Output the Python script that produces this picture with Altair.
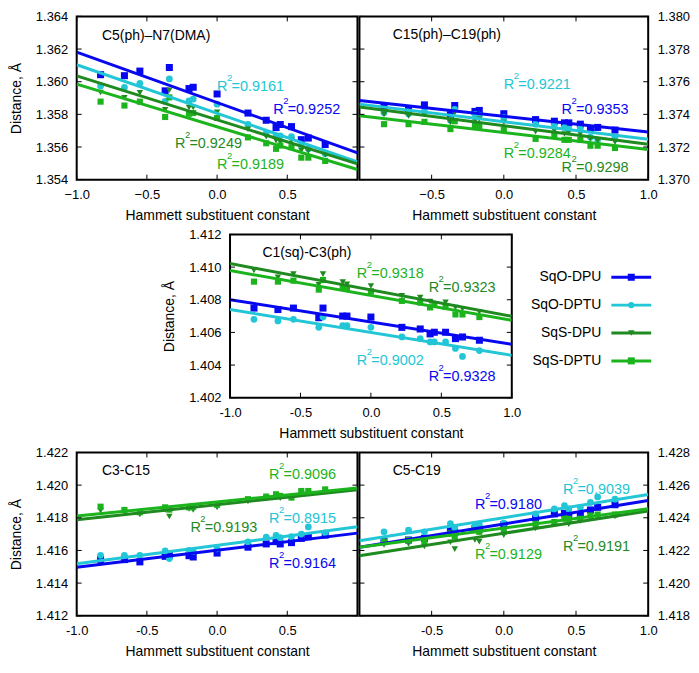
import altair as alt
import pandas as pd

# ---------------- data ----------------
hammett = [-0.83, -0.66, -0.55, -0.37, -0.34, -0.20, -0.17, 0.00,
           0.22, 0.35, 0.42, 0.45, 0.53, 0.60, 0.65, 0.77]

series = ["SqO-DPU", "SqO-DPTU", "SqS-DPU", "SqS-DPTU"]
series_colors = ["#0808f0", "#22c6d6", "#1f8a1f", "#1cb41c"]
series_shapes = ["square", "circle", "triangle-down", "square"]
series_sizes = [50, 38, 44, 50]

# C5(ph)-N7(DMA)
p1_sqo_dpu = [1.36043, 1.36037, 1.36065, 1.35944, 1.36087, 1.35958, 1.35966, 1.35925,
              1.35808, 1.35764, 1.35719, 1.35738, 1.35725, 1.35645, 1.35655, 1.35615]
p1_sqo_dptu = [1.35974, 1.35965, 1.35990, 1.35880, 1.36017, 1.35882, 1.35894, 1.35862,
               1.35738, 1.35683, 1.35669, 1.35669, 1.35663, 1.35609, 1.35590, 1.35559]
p1_sqs_dpu = [1.35934, 1.35902, 1.35932, 1.35828, 1.35948, 1.35842, 1.35842, 1.35812,
              1.35709, 1.35663, 1.35639, 1.35630, 1.35639, 1.35579, 1.35575, 1.35553]
p1_sqs_dptu = [1.35878, 1.35854, 1.35878, 1.35784, 1.35904, 1.35804, 1.35808, 1.35778,
               1.35659, 1.35623, 1.35589, 1.35609, 1.35599, 1.35535, 1.35535, 1.35515]

# C15(ph)-C19(ph)
p2_sqo_dpu = [1.37444, 1.37430, 1.37458, 1.37398, 1.37454, 1.37418, 1.37424, 1.37404,
              1.37368, 1.37358, 1.37348, 1.37348, 1.37340, 1.37310, 1.37320, 1.37304]
p2_sqo_dptu = [1.37410, 1.37404, 1.37418, 1.37364, 1.37430, 1.37400, 1.37395, 1.37380,
               1.37340, 1.37335, 1.37320, 1.37310, 1.37315, 1.37260, 1.37244, 1.37260]
p2_sqs_dpu = [1.37400, 1.37390, 1.37400, 1.37350, 1.37410, 1.37360, 1.37370, 1.37350,
              1.37294, 1.37300, 1.37280, 1.37290, 1.37280, 1.37250, 1.37240, 1.37230]
p2_sqs_dptu = [1.37340, 1.37340, 1.37354, 1.37310, 1.37358, 1.37334, 1.37324, 1.37304,
               1.37250, 1.37274, 1.37244, 1.37244, 1.37244, 1.37208, 1.37208, 1.37194]

# C1(sq)-C3(ph)
p3_sqo_dpu = [1.40749, 1.40740, 1.40749, 1.40690, 1.40749, 1.40700, 1.40700, 1.40694,
              1.40631, 1.40621, 1.40591, 1.40601, 1.40601, 1.40562, 1.40572, 1.40552]
p3_sqo_dptu = [1.40680, 1.40670, 1.40680, 1.40631, 1.40694, 1.40641, 1.40641, 1.40631,
               1.40572, 1.40562, 1.40542, 1.40542, 1.40542, 1.40502, 1.40453, 1.40489]
p3_sqs_dpu = [1.40980, 1.40937, 1.40957, 1.40892, 1.40957, 1.40908, 1.40895, 1.40884,
              1.40825, 1.40813, 1.40789, 1.40775, 1.40785, 1.40753, 1.40745, 1.40726]
p3_sqs_dptu = [1.40911, 1.40911, 1.40917, 1.40862, 1.40921, 1.40878, 1.40868, 1.40852,
               1.40793, 1.40783, 1.40753, 1.40769, 1.40757, 1.40710, 1.40710, 1.40694]

# C3-C15
p4_sqo_dpu = [1.41544, 1.41544, 1.41530, 1.41564, 1.41570, 1.41568, 1.41560, 1.41584,
              1.41620, 1.41640, 1.41654, 1.41640, 1.41648, 1.41674, 1.41684, 1.41694]
p4_sqo_dptu = [1.41570, 1.41570, 1.41570, 1.41598, 1.41550, 1.41600, 1.41594, 1.41610,
               1.41652, 1.41682, 1.41692, 1.41678, 1.41684, 1.41700, 1.41744, 1.41708]
p4_sqs_dpu = [1.41844, 1.41834, 1.41820, 1.41848, 1.41808, 1.41854, 1.41848, 1.41864,
              1.41900, 1.41920, 1.41928, 1.41920, 1.41920, 1.41948, 1.41948, 1.41960]
p4_sqs_dptu = [1.41868, 1.41848, 1.41834, 1.41864, 1.41850, 1.41864, 1.41868, 1.41880,
               1.41914, 1.41930, 1.41944, 1.41934, 1.41924, 1.41964, 1.41964, 1.41974]

# C5-C19
p5_sqo_dpu = [1.42254, 1.42264, 1.42274, 1.42324, 1.42310, 1.42334, 1.42330, 1.42358,
              1.42400, 1.42424, 1.42428, 1.42414, 1.42420, 1.42448, 1.42464, 1.42480]
p5_sqo_dptu = [1.42314, 1.42324, 1.42314, 1.42364, 1.42340, 1.42350, 1.42358, 1.42368,
               1.42424, 1.42454, 1.42474, 1.42454, 1.42464, 1.42494, 1.42528, 1.42514]
p5_sqs_dpu = [1.42234, 1.42240, 1.42224, 1.42250, 1.42208, 1.42264, 1.42254, 1.42294,
              1.42334, 1.42364, 1.42384, 1.42360, 1.42380, 1.42400, 1.42404, 1.42408]
p5_sqs_dptu = [1.42254, 1.42264, 1.42254, 1.42304, 1.42284, 1.42324, 1.42314, 1.42314,
               1.42364, 1.42374, 1.42404, 1.42394, 1.42394, 1.42414, 1.42420, 1.42420]

# panel titles
titles = ["C5(ph)\u2013N7(DMA)", "C15(ph)\u2013C19(ph)", "C1(sq)-C3(ph)", "C3-C15", "C5-C19"]

# R^2 annotations: (series index, value text)
p1_r2 = [(1, "0.9161"), (0, "0.9252"), (2, "0.9249"), (3, "0.9189")]
p2_r2 = [(1, "0.9221"), (0, "0.9353"), (3, "0.9284"), (2, "0.9298")]
p3_r2 = [(3, "0.9318"), (2, "0.9323"), (1, "0.9002"), (0, "0.9328")]
p4_r2 = [(3, "0.9096"), (2, "0.9193"), (1, "0.8915"), (0, "0.9164")]
p5_r2 = [(1, "0.9039"), (0, "0.9180"), (3, "0.9129"), (2, "0.9191")]

# annotation anchors in data units (x, y)
p1_r2_pos = [(0.00, 1.35946), (0.40, 1.35803), (-0.30, 1.35593), (0.00, 1.35468)]
p2_r2_pos = [(0.00, 1.37558), (0.40, 1.37402), (0.00, 1.37130), (0.40, 1.37048)]
p3_r2_pos = [(-0.10, 1.40933), (0.41, 1.40850), (-0.10, 1.40400), (0.41, 1.40305)]
p4_r2_pos = [(0.37, 1.42040), (-0.19, 1.41714), (0.37, 1.41768), (0.37, 1.41492)]
p5_r2_pos = [(0.41, 1.42548), (-0.20, 1.42452), (-0.20, 1.42146), (0.41, 1.42194)]

title_pos = [(-0.82, 1.36257), (-0.77, 1.37864), (-0.77, 1.41064), (-0.82, 1.42062), (-0.77, 1.42662)]

FONT = "Liberation Sans"
H = 164
color_enc = alt.Color("s:N", scale=alt.Scale(domain=series, range=series_colors), legend=None)
shape_enc = alt.Shape("s:N", scale=alt.Scale(domain=series, range=series_shapes), legend=None)
size_enc = alt.Size("s:N", scale=alt.Scale(domain=series, range=series_sizes), legend=None)


def long_df(vals):
    rows = []
    for s, ys in zip(series, vals):
        for x, y in zip(hammett, ys):
            rows.append({"x": x, "y": y, "s": s})
    return pd.DataFrame(rows)


def panel(vals, ydom, side, xlabels, W, title, tpos, r2, r2pos, long_minus, extra=()):
    df = long_df(vals)
    yvals = [round(ydom[0] + 0.002 * i, 3) for i in range(6)]
    xvals_all = [-1.0, -0.5, 0.0, 0.5, 1.0]
    xs = alt.Scale(domain=[-1, 1], nice=False, zero=False)
    ys = alt.Scale(domain=ydom, nice=False, zero=False)
    xaxis_kw = dict(values=xlabels, format=".1f", ticks=False, domain=False, grid=False,
                    labelPadding=9, titlePadding=7, labelFlush=False, labelOverlap=False,
                    title="Hammett substituent constant")
    if not long_minus:
        xaxis_kw["labelExpr"] = "replace(datum.label, '\u2212', '-')"
    xaxis = alt.Axis(**xaxis_kw)
    if side == "left":
        yaxis = alt.Axis(orient="left", values=yvals, format=".3f", ticks=False, domain=False,
                         grid=False, labelPadding=9, titlePadding=12, labelFlush=False,
                         labelOverlap=False, title="Distance, \u00c5")
    else:
        yaxis = alt.Axis(orient="right", values=yvals, format=".3f", ticks=False, domain=False,
                         grid=False, labelPadding=9, labelFlush=False, labelOverlap=False,
                         title=None)
    X = alt.X("x:Q", scale=xs, axis=xaxis)
    Y = alt.Y("y:Q", scale=ys, axis=yaxis)

    pts = alt.Chart(df).mark_point(filled=True, opacity=1).encode(
        x=X, y=Y, color=color_enc, shape=shape_enc, size=size_enc)
    lines = alt.Chart(df).transform_regression(
        "x", "y", groupby=["s"], extent=[-1, 1]).mark_line(strokeWidth=3, clip=True).encode(
        x=X, y=Y, color=color_enc)

    ytick_df = pd.DataFrame({"y": yvals})
    xtick_df = pd.DataFrame({"x": xvals_all})
    tl = alt.Chart(ytick_df).mark_rule(color="black", strokeWidth=1).encode(
        y=Y, x=alt.value(0), x2=alt.value(5))
    tr = alt.Chart(ytick_df).mark_rule(color="black", strokeWidth=1).encode(
        y=Y, x=alt.value(W - 5), x2=alt.value(W))
    tb = alt.Chart(xtick_df).mark_rule(color="black", strokeWidth=1).encode(
        x=X, y=alt.value(H - 5), y2=alt.value(H))
    tt = alt.Chart(xtick_df).mark_rule(color="black", strokeWidth=1).encode(
        x=X, y=alt.value(0), y2=alt.value(5))

    lab_df = pd.DataFrame([
        {"x": p[0], "y": p[1], "s": series[i], "t": "=" + t}
        for (i, t), p in zip(r2, r2pos)
    ])
    labR = alt.Chart(lab_df).mark_text(align="left", baseline="alphabetic", font=FONT,
                                       fontSize=14.5, text="R").encode(
        x=X, y=Y, color=color_enc)
    labV = alt.Chart(lab_df).mark_text(align="left", baseline="alphabetic", font=FONT,
                                       fontSize=14.5, dx=14.5).encode(
        x=X, y=Y, text="t:N", color=color_enc)
    sups = alt.Chart(lab_df).mark_text(align="left", baseline="alphabetic", font=FONT,
                                       fontSize=9.5, dx=10, dy=-10, text="2").encode(
        x=X, y=Y, color=color_enc)
    tdf = pd.DataFrame({"x": [tpos[0]], "y": [tpos[1]], "t": [title]})
    ttl = alt.Chart(tdf).mark_text(align="left", baseline="alphabetic", font=FONT,
                                   fontSize=14, color="black").encode(x=X, y=Y, text="t:N")
    return alt.layer(pts, lines, tl, tr, tb, tt, labR, labV, sups, ttl, *extra).properties(
        width=W, height=H)


W3 = 283
# legend for the middle panel (label left, symbol right), drawn to the right of the panel
one = pd.DataFrame({"a": [0]})
legend_layers = []
for i, s in enumerate(series):
    ly = 43 + 28 * i
    legend_layers.append(alt.Chart(one).mark_text(
        align="right", baseline="middle", font=FONT, fontSize=14, color="black", text=s).encode(
        x=alt.value(W3 + 90), y=alt.value(ly)))
    legend_layers.append(alt.Chart(one).mark_rule(
        strokeWidth=3, color=series_colors[i]).encode(
        x=alt.value(W3 + 100), x2=alt.value(W3 + 140), y=alt.value(ly)))
    legend_layers.append(alt.Chart(one).mark_point(
        filled=True, opacity=1, shape=series_shapes[i], size=series_sizes[i],
        color=series_colors[i]).encode(x=alt.value(W3 + 120), y=alt.value(ly)))

p1 = panel([p1_sqo_dpu, p1_sqo_dptu, p1_sqs_dpu, p1_sqs_dptu], [1.354, 1.364], "left",
           [-1.0, -0.5, 0.0, 0.5], 282, titles[0], title_pos[0], p1_r2, p1_r2_pos, True)
p2 = panel([p2_sqo_dpu, p2_sqo_dptu, p2_sqs_dpu, p2_sqs_dptu], [1.370, 1.380], "right",
           [-0.5, 0.0, 0.5, 1.0], 290, titles[1], title_pos[1], p2_r2, p2_r2_pos, True)
p3 = panel([p3_sqo_dpu, p3_sqo_dptu, p3_sqs_dpu, p3_sqs_dptu], [1.402, 1.412], "left",
           [-1.0, -0.5, 0.0, 0.5, 1.0], W3, titles[2], title_pos[2], p3_r2, p3_r2_pos, False,
           extra=legend_layers)
p4 = panel([p4_sqo_dpu, p4_sqo_dptu, p4_sqs_dpu, p4_sqs_dptu], [1.412, 1.422], "left",
           [-1.0, -0.5, 0.0, 0.5], 282, titles[3], title_pos[3], p4_r2, p4_r2_pos, False)
p5 = panel([p5_sqo_dpu, p5_sqo_dptu, p5_sqs_dpu, p5_sqs_dptu], [1.418, 1.428], "right",
           [-0.5, 0.0, 0.5, 1.0], 290, titles[4], title_pos[4], p5_r2, p5_r2_pos, False)

# empty cell that shifts the middle panel to the right
spacer = alt.Chart(one).mark_point(opacity=0, size=1).encode(
    x=alt.value(1), y=alt.value(1)).properties(
    width=74, height=10, view=alt.ViewBackground(stroke="transparent"))

top = alt.hconcat(p1, p2, spacing=-2)
mid = alt.hconcat(spacer, p3, spacing=10)
bot = alt.hconcat(p4, p5, spacing=-2)

chart = alt.vconcat(top, mid, bot, spacing=4).properties(padding=0).configure_view(
    stroke="black", strokeWidth=2).configure_axis(
    labelFont=FONT, titleFont=FONT, labelFontSize=13, titleFontSize=14,
    titleFontWeight="normal", labelColor="black", titleColor="black")

chart.save("out.html", embed_options={"renderer": "svg", "actions": False})
